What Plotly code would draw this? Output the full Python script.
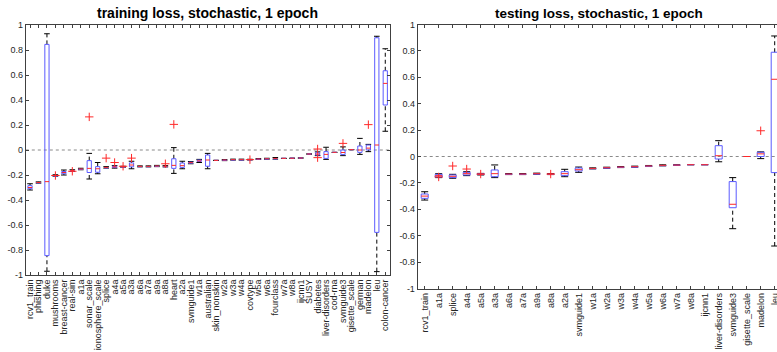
import plotly.graph_objects as go

# ---------------- data: training (left) ----------------
train_cats = ["rcv1_train", "phishing", "duke", "mushrooms", "breast-cancer", "real-sim", "a1a",
              "sonar_scale", "ionosphere_scale", "splice", "a4a", "a5a", "a3a", "a6a", "a7a", "a9a",
              "a8a", "heart", "a2a", "svmguide1", "w1a", "australian", "skin_nonskin", "w2a", "w3a",
              "w4a", "covtype", "w5a", "w6a", "fourclass", "w7a", "w8a", "ijcnn1", "SUSY", "diabetes",
              "liver-disorders", "cod-rna", "svmguide3", "gisette_scale", "german", "madelon", "leu",
              "colon-cancer"]
train_wlo = [-0.32, -0.265, -0.97, -0.21, -0.20, -0.172, -0.158, -0.232, -0.19, -0.145, -0.145, -0.138,
             -0.15, -0.135, -0.135, -0.133, -0.135, -0.187, -0.15, -0.11, -0.10, -0.15, -0.083, -0.085,
             -0.081, -0.081, -0.08, -0.076, -0.074, -0.073, -0.067, -0.066, -0.064, -0.032, -0.045,
             -0.075, -0.019, -0.045, 0.003, -0.035, -0.013, -0.973, 0.15]
train_q1 = [-0.31, -0.262, -0.845, -0.207, -0.19, -0.168, -0.155, -0.18, -0.178, -0.142, -0.14, -0.136,
            -0.135, -0.133, -0.133, -0.131, -0.133, -0.147, -0.139, -0.105, -0.092, -0.13, -0.083, -0.082,
            -0.079, -0.079, -0.078, -0.074, -0.072, -0.07, -0.067, -0.066, -0.064, -0.032, -0.04,
            -0.067, -0.019, -0.037, 0.003, -0.019, 0.0, -0.659, 0.36]
train_med = [-0.30, -0.26, -0.253, -0.204, -0.18, -0.165, -0.152, -0.147, -0.15, -0.139, -0.135, -0.134,
             -0.12, -0.131, -0.131, -0.128, -0.13, -0.123, -0.125, -0.101, -0.087, -0.08, -0.083, -0.08,
             -0.077, -0.077, -0.077, -0.072, -0.07, -0.067, -0.067, -0.066, -0.064, -0.032, -0.032,
             -0.035, -0.019, -0.02, 0.003, 0.0, 0.015, 0.04, 0.533]
train_q3 = [-0.285, -0.257, 0.845, -0.201, -0.172, -0.162, -0.149, -0.085, -0.133, -0.136, -0.13, -0.132,
            -0.103, -0.129, -0.129, -0.125, -0.127, -0.07, -0.104, -0.097, -0.08, -0.04, -0.083, -0.078,
            -0.075, -0.075, -0.076, -0.07, -0.068, -0.064, -0.067, -0.066, -0.064, -0.032, -0.022,
            -0.013, -0.019, 0.0, 0.003, 0.032, 0.04, 0.898, 0.634]
train_whi = [-0.27, -0.255, 0.93, -0.198, -0.16, -0.158, -0.146, -0.027, -0.10, -0.133, -0.125, -0.13,
             -0.09, -0.127, -0.127, -0.123, -0.125, 0.019, -0.09, -0.092, -0.075, -0.027, -0.083, -0.076,
             -0.073, -0.073, -0.074, -0.068, -0.066, -0.06, -0.067, -0.066, -0.064, -0.032, -0.015,
             0.022, -0.019, 0.025, 0.003, 0.093, 0.045, 0.91, 0.81]
train_out_cat = ["mushrooms", "real-sim", "sonar_scale", "splice", "a4a", "a5a", "a3a", "a8a", "heart",
                 "covtype", "diabetes", "diabetes", "svmguide3", "madelon"]
train_out_val = [-0.204, -0.17, 0.265, -0.065, -0.10, -0.13, -0.065, -0.11, 0.205,
                 -0.077, 0.008, -0.061, 0.053, 0.203]

# ---------------- data: testing (right) ----------------
test_cats = ["rcv1_train", "a1a", "splice", "a4a", "a5a", "a3a", "a6a", "a7a", "a9a", "a8a", "a2a",
             "svmguide1", "w1a", "w2a", "w3a", "w4a", "w5a", "w6a", "w7a", "w8a", "ijcnn1",
             "liver-disorders", "svmguide3", "gisette_scale", "madelon", "leu"]
test_wlo = [-0.33, -0.16, -0.165, -0.145, -0.14, -0.16, -0.137, -0.137, -0.134, -0.137, -0.153, -0.12,
            -0.094, -0.089, -0.084, -0.081, -0.076, -0.071, -0.068, -0.062, -0.062, -0.04, -0.547, 0.0,
            -0.016, -0.678]
test_q1 = [-0.317, -0.155, -0.16, -0.14, -0.137, -0.153, -0.135, -0.135, -0.132, -0.135, -0.145, -0.11,
           -0.092, -0.087, -0.082, -0.079, -0.074, -0.069, -0.066, -0.062, -0.062, -0.019, -0.388, 0.0,
           0.0, -0.122]
test_med = [-0.30, -0.145, -0.15, -0.13, -0.134, -0.13, -0.133, -0.133, -0.13, -0.133, -0.13, -0.10,
            -0.09, -0.085, -0.08, -0.077, -0.072, -0.067, -0.065, -0.062, -0.062, 0.006, -0.362, 0.0,
            0.02, 0.585]
test_q3 = [-0.284, -0.135, -0.14, -0.12, -0.131, -0.102, -0.131, -0.131, -0.128, -0.131, -0.115, -0.087,
           -0.088, -0.083, -0.078, -0.075, -0.07, -0.065, -0.064, -0.062, -0.062, 0.082, -0.19, 0.0,
           0.032, 0.79]
test_whi = [-0.267, -0.13, -0.135, -0.115, -0.128, -0.064, -0.129, -0.129, -0.126, -0.129, -0.097, -0.08,
            -0.086, -0.081, -0.076, -0.073, -0.068, -0.063, -0.062, -0.062, -0.062, 0.12, -0.16, 0.0,
            0.035, 0.913]
test_out_cat = ["a1a", "splice", "a4a", "a5a", "a8a", "madelon"]
test_out_val = [-0.155, -0.072, -0.095, -0.133, -0.133, 0.195]

y_tickvals = [-1, -0.8, -0.6, -0.4, -0.2, 0, 0.2, 0.4, 0.6, 0.8, 1]
y_ticktext = ["-1", "-0.8", "-0.6", "-0.4", "-0.2", "0", "0.2", "0.4", "0.6", "0.8", "1"]

titles = ["training loss, stochastic, 1 epoch", "testing loss, stochastic, 1 epoch"]

BLUE = "rgb(90,90,255)"
RED = "rgb(255,40,40)"
AX = "#404040"
W = 0.25  # half box width in category units

fig = go.Figure()


def add_boxes(cats, wlo, q1, med, q3, whi, ocat, oval, xa, ya, capsize):
    n = len(cats)
    pos = list(range(1, n + 1))
    wx, wy = [], []
    for p, a, b, c, d in zip(pos, wlo, q1, q3, whi):
        wx += [p, p, None, p, p, None]
        wy += [a, b, None, c, d, None]
    fig.add_trace(go.Scatter(x=wx, y=wy, mode="lines", xaxis=xa, yaxis=ya,
                             line=dict(color="black", width=1, dash="4px,3px"),
                             hoverinfo="skip", showlegend=False))
    fig.add_trace(go.Scatter(x=pos + pos, y=wlo + whi, mode="markers", xaxis=xa, yaxis=ya,
                             marker=dict(symbol="line-ew", size=capsize,
                                         line=dict(color="black", width=1)),
                             hoverinfo="skip", showlegend=False))
    bx, by = [], []
    for p, b, c in zip(pos, q1, q3):
        bx += [p - W, p + W, p + W, p - W, p - W, None]
        by += [b, b, c, c, b, None]
    fig.add_trace(go.Scatter(x=bx, y=by, mode="lines", xaxis=xa, yaxis=ya,
                             line=dict(color=BLUE, width=1),
                             hoverinfo="skip", showlegend=False))
    mx, my = [], []
    for p, m in zip(pos, med):
        mx += [p - W, p + W, None]
        my += [m, m, None]
    fig.add_trace(go.Scatter(x=mx, y=my, mode="lines", xaxis=xa, yaxis=ya,
                             line=dict(color=RED, width=1),
                             hoverinfo="skip", showlegend=False))
    ox = [cats.index(c) + 1 for c in ocat]
    fig.add_trace(go.Scatter(x=ox, y=oval, mode="markers", xaxis=xa, yaxis=ya,
                             marker=dict(symbol="cross-thin", size=6,
                                         line=dict(color=RED, width=1)),
                             hoverinfo="skip", showlegend=False))


add_boxes(train_cats, train_wlo, train_q1, train_med, train_q3, train_whi,
          train_out_cat, train_out_val, "x", "y", 4)
add_boxes(test_cats, test_wlo, test_q1, test_med, test_q3, test_whi,
          test_out_cat, test_out_val, "x2", "y2", 5)

FW, FH = 777, 352
L1, R1, T1, B1 = 25.8, 389.5, 25.0, 275.0
L2, T2, B2 = 417.7, 24.5, 288.5
n2 = len(test_cats)
step2 = 14.0
xr2_end = 0.5 + (FW - L2) / step2

FONT = "Liberation Sans, Arial, sans-serif"
tickfont = dict(family=FONT, size=9, color="#262626")
common_x = dict(showline=True, linecolor=AX, linewidth=1, ticks="inside", ticklen=3,
                tickcolor=AX, tickangle=-90, tickfont=tickfont, showgrid=False,
                zeroline=False, automargin=False, fixedrange=True, ticklabeloverflow="allow")
common_y = dict(showline=True, linecolor=AX, linewidth=1, ticks="inside", ticklen=3,
                tickcolor=AX, tickfont=tickfont, showgrid=False, zeroline=False,
                automargin=False, range=[-1, 1], tickvals=y_tickvals, ticktext=y_ticktext,
                fixedrange=True)

fig.update_layout(
    width=FW, height=FH, margin=dict(l=0, r=0, t=0, b=0),
    paper_bgcolor="white", plot_bgcolor="white",
    xaxis=dict(common_x, domain=[L1 / FW, R1 / FW], range=[0.5, len(train_cats) + 0.5],
               tickvals=list(range(1, len(train_cats) + 1)), ticktext=train_cats,
               mirror="ticks", anchor="y"),
    yaxis=dict(common_y, domain=[1 - B1 / FH, 1 - T1 / FH], mirror="ticks", anchor="x"),
    xaxis2=dict(common_x, domain=[L2 / FW, 1.0], range=[0.5, xr2_end],
                tickvals=list(range(1, n2 + 1)), ticktext=test_cats,
                mirror="ticks", anchor="y2"),
    yaxis2=dict(common_y, domain=[1 - B2 / FH, 1 - T2 / FH], mirror=False, anchor="x2"),
    showlegend=False,
)

for xr, yr in [("x", "y"), ("x2", "y2")]:
    fig.add_shape(type="line", xref=f"{xr} domain", yref=yr, x0=0, x1=1, y0=0, y1=0,
                  line=dict(color="#8a8a8a", width=1, dash="dot"), layer="below")

fig.add_annotation(text="<b>" + titles[0] + "</b>", xref="paper", yref="paper",
                   x=207.5 / FW, y=1 - 13 / FH, xanchor="center", yanchor="middle",
                   showarrow=False, font=dict(family=FONT, size=14, color="black"))
fig.add_annotation(text="<b>" + titles[1] + "</b>", xref="paper", yref="paper",
                   x=599 / FW, y=1 - 13 / FH, xanchor="center", yanchor="middle",
                   showarrow=False, font=dict(family=FONT, size=13.5, color="black"))

# remove the default 8px page margin so the figure fills the 777x352 window exactly
fig.write_html("out.html", config={"displayModeBar": False},
               post_script="document.body.style.margin='0';document.body.style.overflow='hidden';")
